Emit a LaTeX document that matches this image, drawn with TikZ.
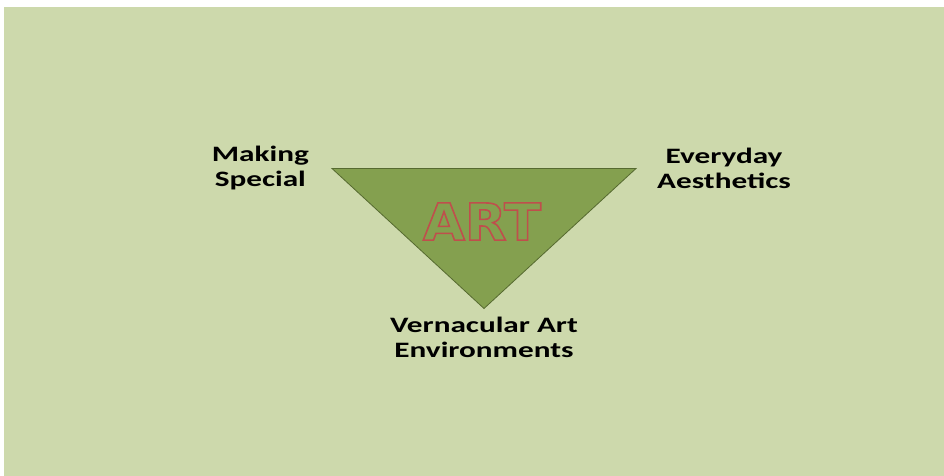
\documentclass[tikz,border=0pt]{standalone}
\usepackage{fontspec}
\setmainfont{Carlito}
\newfontfamily\labelfont[FakeStretch=1.42]{Carlito}
\newfontfamily\artfont[FakeStretch=1.06]{DejaVu Sans}
\usetikzlibrary{positioning}

\definecolor{pagegreen}{RGB}{205,217,172}
\definecolor{olive}{RGB}{132,160,79}
\definecolor{oliveline}{RGB}{86,106,48}
\definecolor{artred}{RGB}{192,80,77}

% text drawn with a red stroke round each letter
\newcommand{\redoutline}[1]{\special{pdf:literal direct 2 Tr 1.6 w 0.75 0.31 0.30 RG}#1\special{pdf:literal direct 0 Tr}}

\begin{document}
\begin{tikzpicture}[x=1pt,y=1pt,
  corner/.style={font=\labelfont\fontsize{22}{25}\selectfont\bfseries,align=center,inner sep=0pt}]
\useasboundingbox (0,0) rectangle (944,476);
\fill[pagegreen] (4,0) rectangle (944,469);
% triangle corners
\coordinate (tl) at (332,307.5);
\coordinate (tr) at (636,307.5);
\coordinate (bt) at (484,167.5);
\draw[fill=olive,draw=oliveline,line width=0.8pt,line join=miter] (tl) -- (tr) -- (bt) -- cycle;
\node[font=\artfont\fontsize{51}{51}\selectfont\bfseries,text=olive] (art) at (482,254.5) {\redoutline{ART}};
% labels at the corners
\node[corner,left=23pt of tl] (making) {Making\\Special};
\node[corner,right=21pt of tr] (everyday) {Everyday\\Aesthetics};
\node[corner,below=8pt of bt] (vernacular) {Vernacular Art\\Environments};
\end{tikzpicture}
\end{document}
